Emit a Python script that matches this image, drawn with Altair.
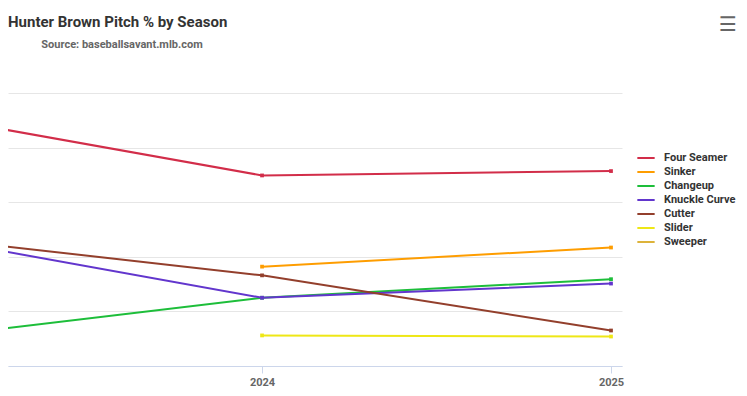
import altair as alt
import pandas as pd

pitches = ["Four Seamer", "Sinker", "Changeup", "Knuckle Curve", "Cutter", "Slider", "Sweeper"]
colors = ["#d22d49", "#fe9d00", "#1dbe3a", "#6236cd", "#933f2c", "#eee716", "#ddb33a"]
seasons = [2023, 2024, 2025]

# pitch usage % per season (None = not thrown)
four_seamer = [46.3, 34.9, 35.7]
sinker = [None, 18.2, 21.7]
changeup = [4.9, 12.5, 15.9]
knuckle_curve = [24.0, 12.5, 15.1]
cutter = [23.8, 16.6, 6.5]
slider = [None, 5.6, 5.4]
sweeper = [3.0, None, None]

title_text = "Hunter Brown Pitch % by Season"
subtitle_text = "Source: baseballsavant.mlb.com"

series = [four_seamer, sinker, changeup, knuckle_curve, cutter, slider, sweeper]
rows = []
for name, vals in zip(pitches, series):
    for s, v in zip(seasons, vals):
        if v is not None:
            rows.append({"Season": s, "Pitch": name, "Pct": v})
df = pd.DataFrame(rows)

FONT = "Roboto"

x = alt.X(
    "Season:Q",
    scale=alt.Scale(domain=[2023.272, 2025.0315], nice=False, zero=False),
    axis=alt.Axis(
        values=[2024, 2025], format="d", title=None, grid=False,
        domainColor="#ccd6eb", tickColor="#ccd6eb", tickSize=7,
        labelFont=FONT, labelFontWeight="bold", labelFontSize=11, labelColor="#666666",
        labelPadding=3,
    ),
)
y = alt.Y(
    "Pct:Q",
    scale=alt.Scale(domain=[0, 50], nice=False),
    axis=alt.Axis(
        values=[0, 10, 20, 30, 40, 50], title=None, labels=False, ticks=False, domain=False,
        grid=True, gridColor="#e6e6e6",
    ),
)
color = alt.Color(
    "Pitch:N",
    scale=alt.Scale(domain=pitches, range=colors),
    legend=alt.Legend(
        title=None, orient="none", legendX=628, legendY=58,
        symbolType="stroke", symbolSize=300, symbolStrokeWidth=2,
        labelFont=FONT, labelFontWeight="bold", labelFontSize=11, labelColor="#333333",
        labelOffset=8, clipHeight=14, rowPadding=0,
    ),
)

lines = alt.Chart(df).mark_line(strokeWidth=2, clip=True).encode(
    x=x, y=y, color=color, detail="Pitch:N"
)
points = alt.Chart(df).mark_point(filled=True, size=14, shape="square", opacity=1, clip=True).encode(
    x=x, y=y, color=alt.Color("Pitch:N", scale=alt.Scale(domain=pitches, range=colors), legend=None)
)
title = alt.Chart(pd.DataFrame({"t": [title_text]})).mark_text(
    font=FONT, fontSize=15, fontWeight="bold", color="#333333", align="left", baseline="alphabetic"
).encode(text="t:N", x=alt.value(0), y=alt.value(-66))
subtitle = alt.Chart(pd.DataFrame({"t": [subtitle_text]})).mark_text(
    font=FONT, fontSize=11, fontWeight="bold", color="#666666", align="center", baseline="alphabetic"
).encode(text="t:N", x=alt.value(114), y=alt.value(-45))
menu = alt.Chart(pd.DataFrame({"t": ["\u2630"]})).mark_text(
    fontSize=20, color="#666666", font="DejaVu Sans"
).encode(text="t:N", x=alt.value(720), y=alt.value(-68))

chart = alt.layer(lines, points, title, subtitle, menu).properties(
    width=614,
    height=273,
    autosize=alt.AutoSizeParams(type="none"),
    padding={"left": 0, "top": 85, "right": 117, "bottom": 22},
).configure_view(stroke=None)

chart.save("out.html", embed_options={"renderer": "svg", "actions": False})
